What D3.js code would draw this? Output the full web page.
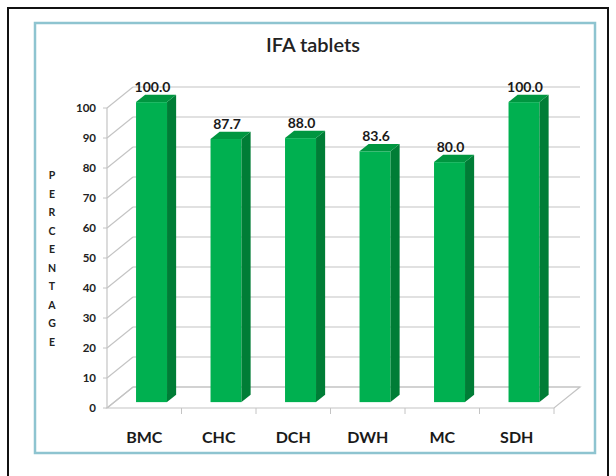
<!DOCTYPE html>
<html>
<head>
<meta charset="utf-8">
<script src="https://cdn.jsdelivr.net/npm/d3@7"></script>
<style>
  body { margin: 0; background: #fff; }
  svg { display: block; font-family: Lato, "Open Sans", sans-serif; }
</style>
</head>
<body>
<svg id="chart" width="616" height="476"></svg>
<script>
const categories = ["BMC", "CHC", "DCH", "DWH", "MC", "SDH"];
const values = [100.0, 87.7, 88.0, 83.6, 80.0, 100.0];
const y_ticks = [0, 10, 20, 30, 40, 50, 60, 70, 80, 90, 100];
const title = "IFA tablets";
const y_title = "PERCENTAGE";

const svg = d3.select("#chart");

// frame
svg.append("rect").attr("x", 8).attr("y", 8).attr("width", 600).attr("height", 480)
	.style("fill", "#fff").style("stroke", "#111").style("stroke-width", 2);
svg.append("rect").attr("x", 35).attr("y", 23).attr("width", 560).attr("height", 430)
	.style("fill", "#fff").style("stroke", "#8ec4d0").style("stroke-width", 2.5);

svg.append("text").attr("x", 313).attr("y", 52).attr("text-anchor", "middle")
	.style("font-size", "20px").style("font-weight", "600").style("fill", "#222").text(title);

// scales (front plane), depth offset for the 3d look
const x = d3.scaleBand().domain(categories).range([107, 554]);
const y = d3.scaleLinear().domain([0, 100]).range([408, 108]);
const depth = {dx: 26, dy: -21};
const bar_front = 0.28, bar_back = 0.63;
const bar_w = 31;
const grid_col = "#c4c4c4";

// back wall gridlines and side wall diagonals
svg.append("g").selectAll("line").data(y_ticks).enter().append("line")
	.attr("x1", 107 + depth.dx).attr("x2", 554 + depth.dx)
	.attr("y1", d => y(d) + depth.dy).attr("y2", d => y(d) + depth.dy)
	.style("stroke", grid_col).style("stroke-width", 1.2);
svg.append("g").selectAll("line").data(y_ticks).enter().append("line")
	.attr("x1", 107).attr("x2", 107 + depth.dx)
	.attr("y1", d => y(d)).attr("y2", d => y(d) + depth.dy)
	.style("stroke", grid_col).style("stroke-width", 1.2);

// floor
svg.append("path")
	.attr("d", `M107,${y(0)}L554,${y(0)}L${554 + depth.dx},${y(0) + depth.dy}L${107 + depth.dx},${y(0) + depth.dy}Z`)
	.style("fill", "none").style("stroke", grid_col).style("stroke-width", 1.2);

// front axis
svg.append("line").attr("x1", 107).attr("x2", 107).attr("y1", y(100)).attr("y2", y(0))
	.style("stroke", grid_col).style("stroke-width", 1.2);
svg.append("g").selectAll("line").data(y_ticks).enter().append("line")
	.attr("x1", 103).attr("x2", 107).attr("y1", d => y(d)).attr("y2", d => y(d))
	.style("stroke", grid_col);
svg.append("g").selectAll("line").data(categories).enter().append("line")
	.attr("x1", d => x(d) + x.bandwidth())
	.attr("x2", d => x(d) + x.bandwidth())
	.attr("y1", y(0)).attr("y2", y(0) + 6)
	.style("stroke", grid_col);

svg.append("g").selectAll("text").data(y_ticks).enter().append("text")
	.attr("x", 96).attr("y", d => y(d)).attr("dy", "0.35em").attr("text-anchor", "end")
	.style("font-size", "11.5px").style("font-weight", "bold").style("fill", "#222")
	.text(d => d);

svg.append("g").selectAll("text").data(y_title.split("")).enter().append("text")
	.attr("x", 52).attr("y", (d, i) => 179 + i * 18.5).attr("text-anchor", "middle")
	.style("font-size", "10.5px").style("font-weight", "bold").style("fill", "#222")
	.text(d => d);

svg.append("g").selectAll("text").data(categories).enter().append("text")
	.attr("x", d => x(d) + x.bandwidth() / 2).attr("y", 443).attr("text-anchor", "middle")
	.style("font-size", "16px").style("font-weight", "bold").style("fill", "#1a1a1a")
	.text(d => d);

// bars
const fx = bar_front * depth.dx, fy = bar_front * depth.dy;
const bdx = (bar_back - bar_front) * depth.dx, bdy = (bar_back - bar_front) * depth.dy;
const bars = svg.append("g").selectAll("g").data(values).enter().append("g");
const bx = (d, i) => x(categories[i]) + (x.bandwidth() - bar_w) / 2 + fx;
bars.append("rect")
	.attr("x", bx).attr("width", bar_w)
	.attr("y", d => y(d) + fy).attr("height", d => y(0) - y(d))
	.style("fill", "#00b050");
bars.append("path")
	.attr("d", (d, i) => {
		const x1 = bx(d, i) + bar_w, t = y(d) + fy, b = y(0) + fy;
		return `M${x1},${t}L${x1 + bdx},${t + bdy}L${x1 + bdx},${b + bdy}L${x1},${b}Z`;
	})
	.style("fill", "#007d36");
bars.append("path")
	.attr("d", (d, i) => {
		const x0 = bx(d, i), t = y(d) + fy;
		return `M${x0},${t}L${x0 + bdx},${t + bdy}L${x0 + bar_w + bdx},${t + bdy}L${x0 + bar_w},${t}Z`;
	})
	.style("fill", "#009640");
bars.append("text")
	.attr("x", (d, i) => bx(d, i) + bar_w / 2 + 1)
	.attr("y", d => y(d) + fy + bdy - 3)
	.attr("text-anchor", "middle")
	.style("font-size", "14px").style("font-weight", "bold").style("fill", "#1a1a1a")
	.text(d => d.toFixed(1));
</script>
</body>
</html>
